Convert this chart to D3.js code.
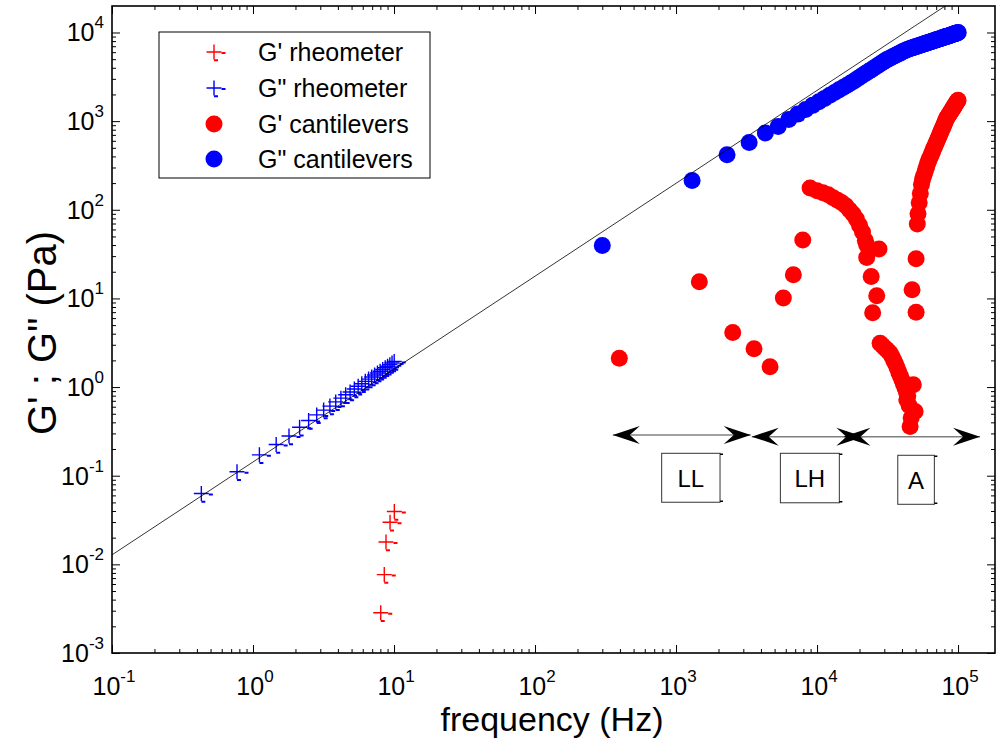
<!DOCTYPE html>
<html><head><meta charset="utf-8">
<script src="https://cdn.jsdelivr.net/npm/d3@7"></script>
<style>body{margin:0;background:#fff}svg{display:block;font-family:"Liberation Sans",Arial,Helvetica,sans-serif}</style>
</head><body><svg id="c" width="1000" height="739"></svg>
<script>
// ---------- data ----------
const xTickValues = [0.1, 1, 10, 100, 1000, 10000, 100000];
const yTickValues = [1e-3, 1e-2, 1e-1, 1, 10, 100, 1000, 10000];

// G' rheometer
const rheoGpFreq = [10.05, 9.37, 8.77, 8.53, 8.05];
const rheoGp = [0.0394, 0.0299, 0.0179, 0.00766, 0.00285];

// G" rheometer
const rheoGppFreq = [0.43, 0.77, 1.11, 1.46, 1.80, 2.14, 2.48, 2.83, 3.17, 3.51, 3.86, 4.20, 4.54, 4.88, 5.23,
  5.57, 5.91, 6.26, 6.60, 6.94, 7.28, 7.63, 7.97, 8.31, 8.66, 9.00, 9.34, 9.68, 10.03];
const rheoGpp = [0.063, 0.111, 0.172, 0.225, 0.281, 0.352, 0.42, 0.485, 0.55, 0.61, 0.68, 0.75, 0.82, 0.88, 0.95,
  1.02, 1.09, 1.16, 1.23, 1.30, 1.37, 1.44, 1.51, 1.58, 1.65, 1.72, 1.79, 1.87, 1.94];

// G' cantilevers
const cantGpFreq = [396, 1463, 2524, 3573, 4642, 5768, 6792, 7920,
  8920, 10000, 11000, 12000, 13000, 14000, 15000, 16000, 17000, 18000, 19000, 20000, 21000, 22000, 22500,
  22500, 27500, 24200, 26500, 24800,
  28000, 29000, 30000, 31000, 32000, 33000, 34000, 35000, 36000, 37000, 38000, 39000, 40000, 41000, 42000,
  43000, 44000, 48170, 43300, 45000, 49580, 46500, 45700,
  50400, 47200, 50400,
  51400, 52000, 53000, 54000, 55000, 56000, 57000, 58000, 59000, 60000, 61000, 62000, 63000, 64000, 65000,
  66000, 67000, 68000, 69000, 70000, 71000, 72000, 73000, 74000, 75000, 76000, 77000, 78000, 79000, 80000,
  81000, 82000, 83000, 84000, 85000, 86000, 87000, 88000, 89000, 90000, 91000, 92000, 93000, 94000, 95000,
  96000, 97000, 98000, 99000, 100000];
const cantGp = [2.12, 15.4, 4.12, 2.70, 1.70, 10.1, 18.5, 45.6,
  176, 164, 156, 148, 137, 128, 120, 111, 99.5, 89.5, 78.5, 66.8, 56.2, 45, 40,
  29, 36, 17.7, 10.7, 6.9,
  3.13, 2.96, 2.80, 2.67, 2.53, 2.41, 2.21, 2.00, 1.83, 1.65, 1.47, 1.33, 1.20, 1.08, 0.98,
  0.887, 0.80, 1.06, 0.72, 0.62, 0.53, 0.45, 0.358,
  28, 12.5, 7.0,
  69, 90, 120, 153, 193, 221, 241, 262, 286, 310, 337, 361, 384, 407, 432,
  457, 484, 512, 540, 571, 602, 634, 667, 702, 738, 775, 814, 854, 895, 938,
  983, 1028, 1076, 1111, 1145, 1180, 1214, 1250, 1286, 1322, 1360, 1398, 1437, 1476, 1516,
  1557, 1598, 1640, 1682, 1725];

// G" cantilevers
const cantGppFreq = [300, 1300, 2300, 3300, 4300, 5300, 6300, 7300, 8300, 9300, 10300, 11300, 12300, 13300,
  14300, 15300, 16300, 17300, 18300, 19300, 20300, 21300, 22300, 23300, 24300, 25300, 26300, 27300, 28300,
  29300, 30300, 31300, 32300, 33300, 34300, 35300, 36300, 37300, 38300, 39300, 40300, 41300, 42300, 43300,
  44300, 45300, 46300, 47300, 48300, 49300, 50300, 51300, 52300, 53300, 54300, 55300, 56300, 57300, 58300,
  59300, 60300, 61300, 62300, 63300, 64300, 65300, 66300, 67300, 68300, 69300, 70300, 71300, 72300, 73300,
  74300, 75300, 76300, 77300, 78300, 79300, 80300, 81300, 82300, 83300, 84300, 85300, 86300, 87300, 88300,
  89300, 90300, 91300, 92300, 93300, 94300, 95300, 96300, 97300, 98300, 99300, 100300];
const cantGpp = [39.6, 214, 418, 575, 735, 872, 1045, 1200, 1352, 1506, 1656, 1806, 1955, 2104,
  2253, 2399, 2547, 2692, 2844, 3006, 3164, 3327, 3486, 3650, 3811, 3972, 4136, 4298, 4460,
  4624, 4786, 4943, 5070, 5196, 5321, 5443, 5566, 5686, 5808, 5929, 6051, 6166, 6281, 6397,
  6479, 6556, 6632, 6707, 6782, 6855, 6928, 7000, 7073, 7143, 7214, 7283, 7353, 7421, 7490,
  7557, 7624, 7691, 7757, 7823, 7887, 7952, 8017, 8080, 8144, 8206, 8269, 8332, 8392, 8453,
  8514, 8575, 8635, 8695, 8753, 8810, 8869, 8927, 8984, 9042, 9099, 9156, 9213, 9270, 9326,
  9382, 9436, 9492, 9545, 9601, 9656, 9710, 9764, 9816, 9869, 9922, 9975];

// reference power-law line (two end points)
const refLineFreq = [0.1, 100000];
const refLineVal = [0.0128, 24800];

// regime annotations (data coordinates)
const arrowFrom = [356, 3443, 15380];
const arrowTo = [3388, 21300, 143200];
const arrowVal = [0.288, 0.276, 0.276];
const regimeLabels = ["LL", "LH", "A"];
const boxFrom = [791, 5495, 37370];
const boxTo = [2051, 14390, 67900];
const boxTop = [0.179, 0.179, 0.170];
const boxBottom = [0.0502, 0.0495, 0.0476];

const legendLabels = ["G' rheometer", 'G" rheometer', "G' cantilevers", 'G" cantilevers'];

// ---------- drawing ----------
const svg = d3.select('#c');
const L = 112, R = 995, T = 6, B = 653;
const RED = '#ff0000', BLUE = '#0000ff';
const x = d3.scaleLog().domain([0.1, 1.828e5]).range([L, R]);
const y = d3.scaleLog().domain([1e-3, 1.99e4]).range([B, T]);

svg.append('rect').attr('width', 1000).attr('height', 739).attr('fill', '#fff');
svg.append('defs').append('clipPath').attr('id', 'clip')
  .append('rect').attr('x', L).attr('y', T).attr('width', R - L).attr('height', B - T);

function minors(majors, dom) {
  const out = [];
  majors.forEach(m => { for (let k = 2; k <= 9; k++) { const v = m * k; if (v > dom[0] && v < dom[1]) out.push(v); } });
  return out;
}
const xMinor = minors(xTickValues, x.domain());
const yMinor = minors(yTickValues, y.domain());

function axisG(axis, tx, ty) {
  const g = svg.append('g').attr('transform', `translate(${tx},${ty})`).call(axis);
  g.select('.domain').remove();
  g.selectAll('line').attr('stroke', '#000').attr('stroke-width', 1);
  g.selectAll('text').remove();
}
[[8, xTickValues], [4, xMinor]].forEach(([s, vals]) => {
  axisG(d3.axisBottom(x).tickValues(vals).tickSize(-s).tickSizeOuter(0), 0, B);
  axisG(d3.axisTop(x).tickValues(vals).tickSize(-s).tickSizeOuter(0), 0, T);
});
[[8, yTickValues], [4, yMinor]].forEach(([s, vals]) => {
  axisG(d3.axisLeft(y).tickValues(vals).tickSize(-s).tickSizeOuter(0), L, 0);
  axisG(d3.axisRight(y).tickValues(vals).tickSize(-s).tickSizeOuter(0), R, 0);
});

// frame
svg.append('rect').attr('x', L).attr('y', T).attr('width', R - L).attr('height', B - T)
  .attr('fill', 'none').attr('stroke', '#000').attr('stroke-width', 1.6);

// tick labels
xTickValues.forEach(v => {
  const t = svg.append('text').attr('x', x(v) + 2).attr('y', 695).attr('text-anchor', 'middle')
    .attr('font-size', 25).attr('fill', '#000');
  t.append('tspan').text('10');
  t.append('tspan').attr('dy', -13).attr('font-size', 17).text(String(Math.round(Math.log10(v))));
});
yTickValues.forEach(v => {
  const t = svg.append('text').attr('x', 104).attr('y', y(v) + 9).attr('text-anchor', 'end')
    .attr('font-size', 25).attr('fill', '#000');
  t.append('tspan').text('10');
  t.append('tspan').attr('dy', -13).attr('font-size', 17).text(String(Math.round(Math.log10(v))));
});

// axis titles
svg.append('text').attr('x', 552).attr('y', 731).attr('text-anchor', 'middle')
  .attr('font-size', 34).text('frequency (Hz)');
svg.append('text').attr('transform', 'translate(56,333) rotate(-90)').attr('text-anchor', 'middle')
  .attr('font-size', 40).text('G\' ; G" (Pa)');

const plot = svg.append('g').attr('clip-path', 'url(#clip)');

// plus marker with small dash artefacts
function plusMarker(g, color) {
  g.append('path').attr('d', 'M-7.5,0H7.5M0,-7.5V7.5').attr('stroke', color).attr('stroke-width', 1.4).attr('fill', 'none');
  g.append('path').attr('d', 'M7.5,1H11.5M0,8.2H4').attr('stroke', color).attr('stroke-width', 2).attr('fill', 'none');
}

// G' cantilevers
plot.append('g').selectAll('circle').data(d3.zip(cantGpFreq, cantGp)).join('circle')
  .attr('cx', d => x(d[0])).attr('cy', d => y(d[1])).attr('r', 8.5).attr('fill', RED);
// G" cantilevers
plot.append('g').selectAll('circle').data(d3.zip(cantGppFreq, cantGpp)).join('circle')
  .attr('cx', d => x(d[0])).attr('cy', d => y(d[1])).attr('r', 8.5).attr('fill', BLUE);
// G' rheometer
d3.zip(rheoGpFreq, rheoGp).forEach(d => plusMarker(plot.append('g').attr('transform', `translate(${x(d[0])},${y(d[1])})`), RED));
// G" rheometer
d3.zip(rheoGppFreq, rheoGpp).forEach(d => plusMarker(plot.append('g').attr('transform', `translate(${x(d[0])},${y(d[1])})`), BLUE));

// reference line
plot.append('path').datum(d3.zip(refLineFreq, refLineVal))
  .attr('d', d3.line().x(d => x(d[0])).y(d => y(d[1])))
  .attr('stroke', '#000').attr('stroke-width', 0.8).attr('fill', 'none');

// arrows
function head(px, py, dir) {
  const l = 27, w = 9, n = 17;
  return `M${px},${py}L${px - dir * l},${py - w}L${px - dir * n},${py}L${px - dir * l},${py + w}Z`;
}
arrowFrom.forEach((f, i) => {
  const x1 = x(f), x2 = x(arrowTo[i]), yy = y(arrowVal[i]);
  svg.append('line').attr('x1', x1).attr('x2', x2).attr('y1', yy).attr('y2', yy)
    .attr('stroke', '#808080').attr('stroke-width', 1.5);
  svg.append('path').attr('d', head(x1, yy, -1)).attr('fill', '#000');
  svg.append('path').attr('d', head(x2, yy, 1)).attr('fill', '#000');
});
// regime boxes
regimeLabels.forEach((lab, i) => {
  const x1 = x(boxFrom[i]), x2 = x(boxTo[i]), y1 = y(boxTop[i]), y2 = y(boxBottom[i]);
  svg.append('rect').attr('x', x1).attr('y', y1).attr('width', x2 - x1).attr('height', y2 - y1)
    .attr('fill', '#fff').attr('stroke', '#333').attr('stroke-width', 1);
  svg.append('path').attr('d', `M${x2},${y1 + 1}h3M${x2},${y2 - 1}h3`).attr('stroke', '#000').attr('stroke-width', 1.5);
  svg.append('text').attr('x', (x1 + x2) / 2).attr('y', (y1 + y2) / 2 + 9).attr('text-anchor', 'middle')
    .attr('font-size', 24).text(lab);
});

// legend
const lg = svg.append('g');
lg.append('rect').attr('x', 159).attr('y', 32).attr('width', 271).attr('height', 146)
  .attr('fill', '#fff').attr('stroke', '#000').attr('stroke-width', 1);
const rowY = [52, 88, 124, 159];
legendLabels.forEach((lab, i) => {
  const yy = rowY[i];
  if (i < 2) plusMarker(lg.append('g').attr('transform', `translate(214,${yy})`), i === 0 ? RED : BLUE);
  else lg.append('circle').attr('cx', 214).attr('cy', yy).attr('r', 8.5).attr('fill', i === 2 ? RED : BLUE);
  lg.append('text').attr('x', 258).attr('y', yy + 9).attr('font-size', 25).text(lab);
});
</script></body></html>
